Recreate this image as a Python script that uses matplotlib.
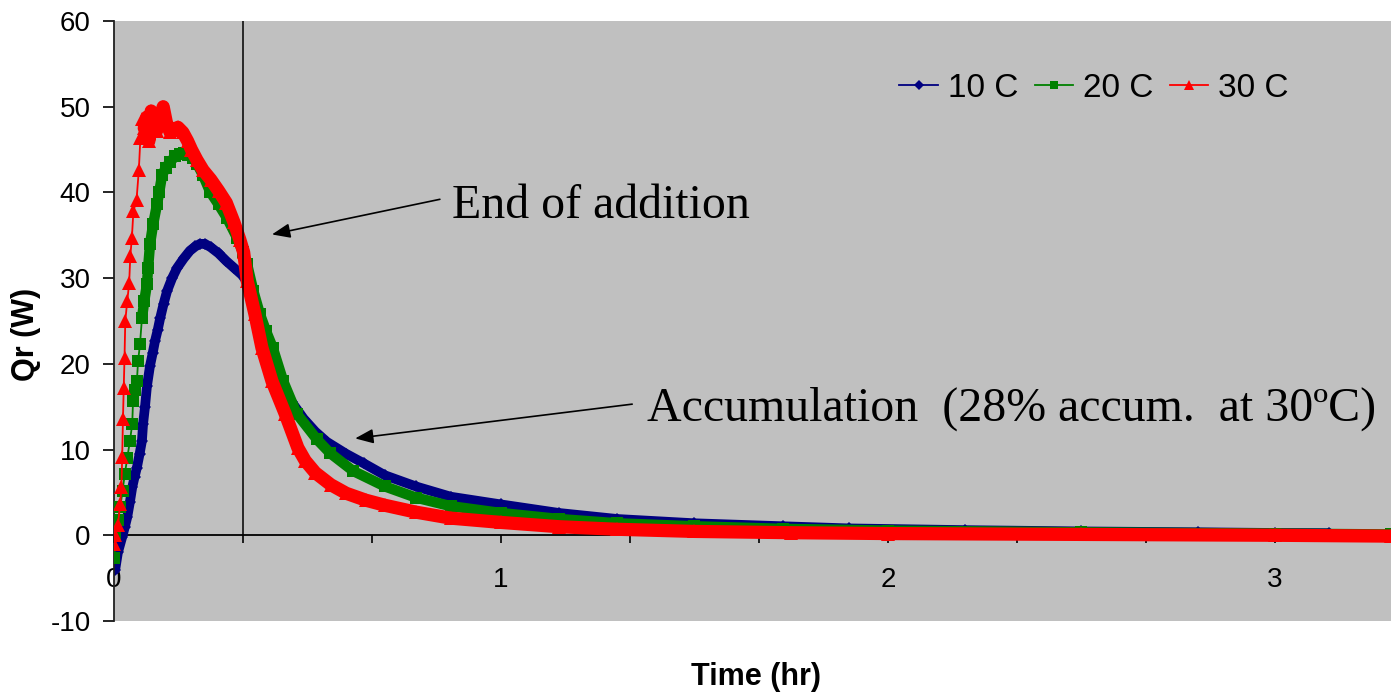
import numpy as np
import matplotlib.pyplot as plt

plt.rcParams['font.family'] = 'Liberation Sans'
plt.rcParams['axes.unicode_minus'] = False

# heat flow Qr (W) against time (hr), three reaction temperatures
t10 = [0.003, 0.010, 0.021, 0.028, 0.034, 0.041, 0.047, 0.053, 0.059, 0.066,
       0.072, 0.075, 0.080, 0.085, 0.093, 0.100, 0.106, 0.113, 0.119, 0.128,
       0.137, 0.150, 0.163, 0.180, 0.196, 0.210, 0.222, 0.235, 0.250, 0.270,
       0.290, 0.310, 0.330, 0.345, 0.360, 0.375, 0.390, 0.410, 0.430, 0.460,
       0.490, 0.520, 0.550, 0.600, 0.645, 0.700, 0.780, 0.870, 1.000, 1.150,
       1.300, 1.500, 1.730, 1.900, 2.200, 2.500, 2.800, 3.000, 3.140]
q10 = [-4.0, -2.0, -0.2, 1.0, 2.1, 3.9, 5.6, 6.8, 7.9, 9.5,
       11.0, 13.0, 15.0, 17.4, 19.8, 21.3, 22.7, 24.0, 25.3, 27.0,
       28.5, 30.0, 31.2, 32.3, 33.2, 33.7, 34.0, 34.0, 33.6, 32.9,
       32.0, 31.2, 30.4, 29.5, 27.2, 24.8, 22.7, 20.2, 18.0, 15.5,
       13.6, 12.1, 10.9, 9.5, 8.4, 7.0, 5.7, 4.5, 3.6, 2.6,
       1.9, 1.4, 1.05, 0.8, 0.6, 0.45, 0.35, 0.27, 0.25]

t20 = [0.001, 0.003, 0.010, 0.016, 0.022, 0.028, 0.034, 0.041, 0.047, 0.049,
       0.055, 0.059, 0.062, 0.067, 0.072, 0.078, 0.085, 0.088, 0.093, 0.101,
       0.111, 0.117, 0.124, 0.134, 0.145, 0.158, 0.171, 0.181, 0.191, 0.203,
       0.215, 0.230, 0.248, 0.270, 0.292, 0.318, 0.333, 0.344, 0.360, 0.377,
       0.393, 0.410, 0.437, 0.472, 0.524, 0.558, 0.618, 0.700, 0.780, 0.870,
       1.000, 1.150, 1.300, 1.500, 1.730, 2.000, 2.500, 3.000, 3.300]
q20 = [-2.7, 0.2, 1.8, 3.3, 5.2, 7.2, 9.0, 11.0, 13.0, 15.7,
       17.0, 18.0, 20.3, 22.3, 25.3, 27.3, 29.3, 31.2, 34.0, 36.3,
       38.6, 40.1, 42.0, 42.9, 43.6, 44.2, 44.5, 44.6, 44.4, 44.0,
       43.3, 42.0, 40.1, 38.6, 37.0, 34.7, 33.0, 31.6, 28.5, 25.8,
       23.8, 21.9, 18.0, 14.2, 11.2, 9.6, 7.5, 5.7, 4.4, 3.4,
       2.6, 1.9, 1.4, 1.05, 0.75, 0.55, 0.35, 0.2, 0.1]

t30 = [0.001, 0.003, 0.010, 0.016, 0.019, 0.021, 0.023, 0.025, 0.027, 0.029,
       0.034, 0.039, 0.042, 0.046, 0.050, 0.058, 0.064, 0.068, 0.072, 0.078,
       0.085, 0.090, 0.096, 0.103, 0.110, 0.118, 0.127, 0.135, 0.145, 0.155,
       0.165, 0.178, 0.190, 0.200, 0.214, 0.230, 0.250, 0.270, 0.290, 0.310,
       0.325, 0.335, 0.344, 0.364, 0.382, 0.408, 0.442, 0.475, 0.494, 0.520,
       0.560, 0.600, 0.650, 0.700, 0.780, 0.870, 1.000, 1.150, 1.300, 1.500,
       1.750, 2.000, 2.500, 3.000, 3.300]
q30 = [-1.0, 0.0, 1.2, 3.7, 5.6, 9.1, 13.6, 17.2, 20.7, 25.0,
       27.3, 29.4, 32.6, 34.7, 37.8, 39.1, 42.6, 46.3, 48.6, 47.5,
       48.8, 46.0, 49.5, 48.0, 47.2, 48.5, 50.0, 48.2, 47.0, 47.3,
       47.6, 47.0, 46.0, 45.0, 43.8, 42.6, 41.5, 40.2, 38.8, 36.5,
       34.5, 33.0, 29.7, 25.8, 21.9, 18.0, 14.2, 10.2, 8.7, 7.3,
       5.9, 4.9, 4.1, 3.5, 2.7, 2.0, 1.5, 1.0, 0.7, 0.45,
       0.3, 0.2, 0.1, 0.0, -0.1]

labels = ['10 C', '20 C', '30 C']
end_of_addition = 1 / 3

fig = plt.figure(figsize=(13.91, 6.94), dpi=100)
ax = fig.add_axes([0.082, 0.1052, 0.918, 0.8645])
ax.set_facecolor('#c0c0c0')

# (times, values, label, colour, marker, marker size, band width, band start)
styles = [
    (t10, q10, labels[0], '#000080', 'D', 6.5, 7.0, 0.0),
    (t20, q20, labels[1], '#008000', 's', 8, 7.5, 0.07),
    (t30, q30, labels[2], '#ff0000', '^', 10, 9.5, 0.075),
]
for z, (t, q, lab, col, mk, ms, bw, b0) in enumerate(styles):
    t = np.asarray(t)
    q = np.asarray(q)
    m = t >= b0
    # dense logging shows up as a solid band of markers
    ax.plot(t[m], q[m], color=col, lw=bw, solid_capstyle='round',
            solid_joinstyle='round', zorder=2 + z)
    ax.plot(t, q, color=col, lw=1.3, marker=mk, ms=ms, mew=0,
            label=lab, zorder=2 + z)

ax.vlines(end_of_addition, 0, 60, colors='black', lw=1.1, zorder=6)

ax.set_xlim(0, 3.3)
ax.set_ylim(-10, 60)
ax.set_yticks(range(-10, 61, 10))
xt = np.arange(10) / 3
ax.set_xticks(xt)
ax.set_xticklabels([str(int(round(v))) if abs(v - round(v)) < 1e-6 else '' for v in xt])

for s in ['top', 'right']:
    ax.spines[s].set_visible(False)
ax.spines['bottom'].set_position(('data', 0))
ax.spines['bottom'].set_zorder(1)
ax.spines['left'].set_color('#202020')
ax.spines['left'].set_linewidth(1.3)
ax.spines['bottom'].set_linewidth(1.3)
ax.tick_params(axis='x', direction='out', length=6, width=1.2, pad=17, labelsize=20)
ax.tick_params(axis='y', direction='out', length=7.7, width=1.2, pad=9, labelsize=20)

ax.set_xlabel('Time (hr)', fontsize=22, fontweight='bold')
ax.xaxis.set_label_coords(0.503, -0.068)
ax.set_ylabel('Qr (W)', fontsize=22, fontweight='bold')
ax.yaxis.set_label_coords(-0.057, 0.477)

ax.legend(loc='center left', bbox_to_anchor=(0.615, 0.888), ncol=3,
          frameon=False, fontsize=24, handlelength=1.15, handletextpad=0.3,
          columnspacing=0.5, borderpad=0, borderaxespad=0, markerscale=0.75)

arrow = dict(arrowstyle='-|>,head_length=0.5,head_width=0.2',
             color='black', lw=1.2, mutation_scale=22, shrinkA=0, shrinkB=0)
ax.annotate('', xy=(0.408, 35.1), xytext=(0.842, 39.2), arrowprops=arrow)
ax.annotate('', xy=(0.623, 11.3), xytext=(1.339, 15.3), arrowprops=arrow)
ax.text(0.873, 37.0, 'End of addition', family='Liberation Serif',
        fontsize=34.5, ha='left', va='baseline')
ax.text(1.377, 13.4, 'Accumulation  (28% accum.  at 30ºC)',
        family='Liberation Serif', fontsize=34.5, ha='left', va='baseline')

fig.savefig('out.png', dpi=100)
